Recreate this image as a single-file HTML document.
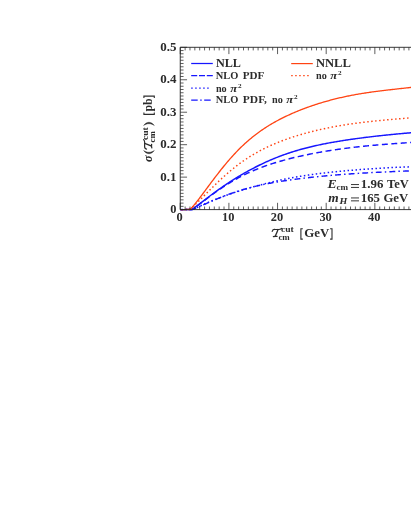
<!DOCTYPE html>
<html><head><meta charset="utf-8"><title>plot</title>
<style>
html,body{margin:0;padding:0;background:#fff;}
body{width:411px;height:532px;overflow:hidden;font-family:"Liberation Serif",serif;}
svg{display:block;}
text{font-family:"Liberation Serif",serif;fill:#2c2c2c;font-weight:bold;}
.i{font-style:italic;}
</style></head><body>
<svg width="411" height="532" viewBox="0 0 411 532">
<rect width="411" height="532" fill="#fff"/>

<path d="M180.2 209.60 L181.2 209.60 L182.2 209.60 L183.2 209.60 L184.2 209.60 L185.2 209.60 L186.2 209.53 L187.2 209.53 L188.2 209.52 L189.2 209.52 L190.2 209.52 L191.2 209.52 L192.2 209.52 L193.2 209.21 L194.2 208.82 L195.2 208.41 L196.2 207.98 L197.2 207.55 L198.2 207.11 L199.2 206.67 L200.2 206.23 L201.2 205.78 L202.2 205.34 L203.2 204.89 L204.2 204.45 L205.2 204.01 L206.2 203.57 L207.2 203.13 L208.2 202.69 L209.2 202.25 L210.2 201.82 L211.2 201.38 L212.2 200.95 L213.2 200.53 L214.2 200.10 L215.2 199.68 L216.2 199.26 L217.2 198.84 L218.2 198.43 L219.2 198.02 L220.2 197.62 L221.2 197.22 L222.2 196.82 L223.2 196.43 L224.2 196.04 L225.2 195.66 L226.2 195.28 L227.2 194.90 L228.2 194.53 L229.2 194.16 L230.2 193.80 L231.2 193.45 L232.2 193.09 L233.2 192.75 L234.2 192.40 L235.2 192.07 L236.2 191.74 L237.2 191.41 L238.2 191.09 L239.2 190.77 L240.2 190.46 L241.2 190.15 L242.2 189.85 L243.2 189.55 L244.2 189.26 L245.2 188.98 L246.2 188.70 L247.2 188.42 L248.2 188.15 L249.2 187.88 L250.2 187.61 L251.2 187.36 L252.2 187.10 L253.2 186.85 L254.2 186.60 L255.2 186.36 L256.2 186.12 L257.2 185.89 L258.2 185.66 L259.2 185.43 L260.2 185.21 L261.2 184.99 L262.2 184.78 L263.2 184.57 L264.2 184.36 L265.2 184.15 L266.2 183.95 L267.2 183.76 L268.2 183.56 L269.2 183.37 L270.2 183.18 L271.2 182.99 L272.2 182.81 L273.2 182.63 L274.2 182.45 L275.2 182.28 L276.2 182.11 L277.2 181.94 L278.2 181.77 L279.2 181.61 L280.2 181.45 L281.2 181.29 L282.2 181.13 L283.2 180.97 L284.2 180.82 L285.2 180.67 L286.2 180.52 L287.2 180.37 L288.2 180.23 L289.2 180.08 L290.2 179.94 L291.2 179.80 L292.2 179.66 L293.2 179.53 L294.2 179.39 L295.2 179.26 L296.2 179.13 L297.2 179.00 L298.2 178.87 L299.2 178.74 L300.2 178.62 L301.2 178.49 L302.2 178.37 L303.2 178.25 L304.2 178.13 L305.2 178.01 L306.2 177.90 L307.2 177.78 L308.2 177.67 L309.2 177.55 L310.2 177.44 L311.2 177.33 L312.2 177.22 L313.2 177.12 L314.2 177.01 L315.2 176.91 L316.2 176.80 L317.2 176.70 L318.2 176.60 L319.2 176.50 L320.2 176.40 L321.2 176.30 L322.2 176.21 L323.2 176.11 L324.2 176.02 L325.2 175.92 L326.2 175.83 L327.2 175.74 L328.2 175.65 L329.2 175.56 L330.2 175.47 L331.2 175.38 L332.2 175.30 L333.2 175.21 L334.2 175.13 L335.2 175.05 L336.2 174.96 L337.2 174.88 L338.2 174.80 L339.2 174.72 L340.2 174.64 L341.2 174.57 L342.2 174.49 L343.2 174.42 L344.2 174.34 L345.2 174.27 L346.2 174.19 L347.2 174.12 L348.2 174.05 L349.2 173.98 L350.2 173.91 L351.2 173.84 L352.2 173.78 L353.2 173.71 L354.2 173.65 L355.2 173.58 L356.2 173.52 L357.2 173.45 L358.2 173.39 L359.2 173.33 L360.2 173.27 L361.2 173.21 L362.2 173.15 L363.2 173.09 L364.2 173.03 L365.2 172.97 L366.2 172.92 L367.2 172.86 L368.2 172.80 L369.2 172.75 L370.2 172.69 L371.2 172.64 L372.2 172.59 L373.2 172.53 L374.2 172.48 L375.2 172.43 L376.2 172.38 L377.2 172.33 L378.2 172.28 L379.2 172.23 L380.2 172.18 L381.2 172.13 L382.2 172.08 L383.2 172.03 L384.2 171.98 L385.2 171.94 L386.2 171.89 L387.2 171.84 L388.2 171.80 L389.2 171.75 L390.2 171.71 L391.2 171.66 L392.2 171.62 L393.2 171.57 L394.2 171.53 L395.2 171.48 L396.2 171.44 L397.2 171.40 L398.2 171.35 L399.2 171.31 L400.2 171.27 L401.2 171.22 L402.2 171.18 L403.2 171.14 L404.2 171.10 L405.2 171.06 L406.2 171.02 L407.2 170.97 L408.2 170.93 L409.2 170.89 L410.2 170.85 L411.2 170.81 L412.2 170.77 L413.2 170.73 L414.2 170.69 L415.2 170.65 L416.2 170.61" stroke="#1616ff" stroke-width="1.45" fill="none" stroke-dasharray="5.9 3.1 1.5 3.1" stroke-dashoffset="3.2"/>
<path d="M180.2 209.60 L181.2 209.60 L182.2 209.60 L183.2 209.60 L184.2 209.60 L185.2 209.60 L186.2 209.59 L187.2 209.59 L188.2 209.59 L189.2 209.59 L190.2 209.58 L191.2 209.58 L192.2 209.57 L193.2 209.37 L194.2 208.90 L195.2 208.42 L196.2 207.94 L197.2 207.46 L198.2 206.99 L199.2 206.51 L200.2 206.04 L201.2 205.58 L202.2 205.12 L203.2 204.66 L204.2 204.20 L205.2 203.75 L206.2 203.31 L207.2 202.87 L208.2 202.43 L209.2 202.00 L210.2 201.58 L211.2 201.16 L212.2 200.74 L213.2 200.33 L214.2 199.92 L215.2 199.52 L216.2 199.12 L217.2 198.73 L218.2 198.34 L219.2 197.96 L220.2 197.58 L221.2 197.21 L222.2 196.83 L223.2 196.47 L224.2 196.10 L225.2 195.74 L226.2 195.39 L227.2 195.04 L228.2 194.69 L229.2 194.34 L230.2 194.00 L231.2 193.66 L232.2 193.32 L233.2 192.99 L234.2 192.66 L235.2 192.33 L236.2 192.01 L237.2 191.68 L238.2 191.36 L239.2 191.05 L240.2 190.73 L241.2 190.42 L242.2 190.11 L243.2 189.80 L244.2 189.49 L245.2 189.19 L246.2 188.89 L247.2 188.59 L248.2 188.29 L249.2 188.00 L250.2 187.71 L251.2 187.42 L252.2 187.13 L253.2 186.85 L254.2 186.57 L255.2 186.29 L256.2 186.01 L257.2 185.73 L258.2 185.46 L259.2 185.19 L260.2 184.92 L261.2 184.66 L262.2 184.40 L263.2 184.14 L264.2 183.88 L265.2 183.63 L266.2 183.37 L267.2 183.12 L268.2 182.88 L269.2 182.63 L270.2 182.39 L271.2 182.15 L272.2 181.91 L273.2 181.68 L274.2 181.44 L275.2 181.22 L276.2 180.99 L277.2 180.76 L278.2 180.54 L279.2 180.32 L280.2 180.11 L281.2 179.89 L282.2 179.68 L283.2 179.47 L284.2 179.27 L285.2 179.06 L286.2 178.86 L287.2 178.67 L288.2 178.47 L289.2 178.28 L290.2 178.09 L291.2 177.90 L292.2 177.72 L293.2 177.54 L294.2 177.36 L295.2 177.18 L296.2 177.00 L297.2 176.83 L298.2 176.66 L299.2 176.49 L300.2 176.33 L301.2 176.17 L302.2 176.01 L303.2 175.85 L304.2 175.69 L305.2 175.54 L306.2 175.39 L307.2 175.24 L308.2 175.09 L309.2 174.94 L310.2 174.80 L311.2 174.66 L312.2 174.52 L313.2 174.38 L314.2 174.25 L315.2 174.11 L316.2 173.98 L317.2 173.85 L318.2 173.72 L319.2 173.59 L320.2 173.47 L321.2 173.35 L322.2 173.23 L323.2 173.11 L324.2 172.99 L325.2 172.87 L326.2 172.76 L327.2 172.64 L328.2 172.53 L329.2 172.42 L330.2 172.31 L331.2 172.20 L332.2 172.10 L333.2 171.99 L334.2 171.89 L335.2 171.78 L336.2 171.68 L337.2 171.58 L338.2 171.48 L339.2 171.39 L340.2 171.29 L341.2 171.19 L342.2 171.10 L343.2 171.01 L344.2 170.92 L345.2 170.83 L346.2 170.74 L347.2 170.65 L348.2 170.56 L349.2 170.47 L350.2 170.39 L351.2 170.30 L352.2 170.22 L353.2 170.13 L354.2 170.05 L355.2 169.97 L356.2 169.89 L357.2 169.81 L358.2 169.73 L359.2 169.65 L360.2 169.57 L361.2 169.50 L362.2 169.42 L363.2 169.35 L364.2 169.27 L365.2 169.20 L366.2 169.13 L367.2 169.06 L368.2 168.99 L369.2 168.92 L370.2 168.85 L371.2 168.78 L372.2 168.71 L373.2 168.65 L374.2 168.58 L375.2 168.52 L376.2 168.45 L377.2 168.39 L378.2 168.33 L379.2 168.27 L380.2 168.21 L381.2 168.15 L382.2 168.09 L383.2 168.03 L384.2 167.98 L385.2 167.92 L386.2 167.87 L387.2 167.81 L388.2 167.76 L389.2 167.71 L390.2 167.66 L391.2 167.61 L392.2 167.56 L393.2 167.51 L394.2 167.46 L395.2 167.41 L396.2 167.37 L397.2 167.32 L398.2 167.28 L399.2 167.24 L400.2 167.19 L401.2 167.15 L402.2 167.11 L403.2 167.07 L404.2 167.03 L405.2 167.00 L406.2 166.96 L407.2 166.92 L408.2 166.89 L409.2 166.85 L410.2 166.82 L411.2 166.79 L412.2 166.76 L413.2 166.73 L414.2 166.70 L415.2 166.67 L416.2 166.64" stroke="#1616ff" stroke-width="1.5" fill="none" stroke-dasharray="1.5 2.5" stroke-dashoffset="-1.1"/>
<path d="M180.2 209.60 L181.2 209.60 L182.2 209.60 L183.2 209.60 L184.2 209.60 L185.2 209.60 L186.2 209.56 L187.2 209.55 L188.2 209.55 L189.2 209.55 L190.2 209.55 L191.2 209.56 L192.2 209.56 L193.2 208.95 L194.2 208.25 L195.2 207.51 L196.2 206.76 L197.2 206.00 L198.2 205.23 L199.2 204.46 L200.2 203.69 L201.2 202.91 L202.2 202.14 L203.2 201.37 L204.2 200.60 L205.2 199.84 L206.2 199.08 L207.2 198.32 L208.2 197.57 L209.2 196.82 L210.2 196.08 L211.2 195.34 L212.2 194.61 L213.2 193.88 L214.2 193.16 L215.2 192.44 L216.2 191.73 L217.2 191.03 L218.2 190.33 L219.2 189.64 L220.2 188.96 L221.2 188.28 L222.2 187.61 L223.2 186.95 L224.2 186.30 L225.2 185.65 L226.2 185.01 L227.2 184.38 L228.2 183.75 L229.2 183.14 L230.2 182.53 L231.2 181.93 L232.2 181.34 L233.2 180.75 L234.2 180.17 L235.2 179.60 L236.2 179.04 L237.2 178.49 L238.2 177.95 L239.2 177.41 L240.2 176.88 L241.2 176.36 L242.2 175.85 L243.2 175.34 L244.2 174.85 L245.2 174.36 L246.2 173.88 L247.2 173.40 L248.2 172.94 L249.2 172.48 L250.2 172.03 L251.2 171.58 L252.2 171.14 L253.2 170.71 L254.2 170.29 L255.2 169.87 L256.2 169.46 L257.2 169.05 L258.2 168.65 L259.2 168.26 L260.2 167.87 L261.2 167.49 L262.2 167.12 L263.2 166.75 L264.2 166.39 L265.2 166.03 L266.2 165.67 L267.2 165.33 L268.2 164.98 L269.2 164.65 L270.2 164.31 L271.2 163.99 L272.2 163.66 L273.2 163.35 L274.2 163.03 L275.2 162.72 L276.2 162.42 L277.2 162.12 L278.2 161.82 L279.2 161.53 L280.2 161.24 L281.2 160.96 L282.2 160.68 L283.2 160.40 L284.2 160.13 L285.2 159.86 L286.2 159.59 L287.2 159.33 L288.2 159.06 L289.2 158.81 L290.2 158.55 L291.2 158.30 L292.2 158.05 L293.2 157.81 L294.2 157.57 L295.2 157.33 L296.2 157.09 L297.2 156.86 L298.2 156.63 L299.2 156.40 L300.2 156.17 L301.2 155.95 L302.2 155.73 L303.2 155.51 L304.2 155.30 L305.2 155.08 L306.2 154.87 L307.2 154.67 L308.2 154.46 L309.2 154.26 L310.2 154.06 L311.2 153.86 L312.2 153.66 L313.2 153.47 L314.2 153.28 L315.2 153.09 L316.2 152.90 L317.2 152.72 L318.2 152.54 L319.2 152.35 L320.2 152.18 L321.2 152.00 L322.2 151.83 L323.2 151.65 L324.2 151.48 L325.2 151.32 L326.2 151.15 L327.2 150.99 L328.2 150.83 L329.2 150.67 L330.2 150.51 L331.2 150.35 L332.2 150.20 L333.2 150.05 L334.2 149.89 L335.2 149.75 L336.2 149.60 L337.2 149.45 L338.2 149.31 L339.2 149.17 L340.2 149.03 L341.2 148.89 L342.2 148.76 L343.2 148.62 L344.2 148.49 L345.2 148.36 L346.2 148.23 L347.2 148.10 L348.2 147.98 L349.2 147.85 L350.2 147.73 L351.2 147.61 L352.2 147.49 L353.2 147.38 L354.2 147.26 L355.2 147.15 L356.2 147.03 L357.2 146.92 L358.2 146.81 L359.2 146.71 L360.2 146.60 L361.2 146.49 L362.2 146.39 L363.2 146.29 L364.2 146.19 L365.2 146.09 L366.2 145.99 L367.2 145.89 L368.2 145.80 L369.2 145.70 L370.2 145.61 L371.2 145.52 L372.2 145.42 L373.2 145.33 L374.2 145.24 L375.2 145.16 L376.2 145.07 L377.2 144.98 L378.2 144.90 L379.2 144.81 L380.2 144.73 L381.2 144.65 L382.2 144.57 L383.2 144.49 L384.2 144.41 L385.2 144.33 L386.2 144.25 L387.2 144.17 L388.2 144.09 L389.2 144.02 L390.2 143.94 L391.2 143.87 L392.2 143.79 L393.2 143.72 L394.2 143.65 L395.2 143.58 L396.2 143.51 L397.2 143.43 L398.2 143.36 L399.2 143.30 L400.2 143.23 L401.2 143.16 L402.2 143.09 L403.2 143.02 L404.2 142.95 L405.2 142.89 L406.2 142.82 L407.2 142.76 L408.2 142.69 L409.2 142.63 L410.2 142.56 L411.2 142.50 L412.2 142.43 L413.2 142.37 L414.2 142.31 L415.2 142.24 L416.2 142.18" stroke="#1616ff" stroke-width="1.45" fill="none" stroke-dasharray="6 3.45" stroke-dashoffset="1.0"/>
<path d="M180.2 209.60 L181.2 209.60 L182.2 209.60 L183.2 209.60 L184.2 209.60 L185.2 209.60 L186.2 209.57 L187.2 209.56 L188.2 209.56 L189.2 209.55 L190.2 209.55 L191.2 209.53 L192.2 209.03 L193.2 208.42 L194.2 207.76 L195.2 207.08 L196.2 206.37 L197.2 205.64 L198.2 204.90 L199.2 204.16 L200.2 203.40 L201.2 202.64 L202.2 201.88 L203.2 201.11 L204.2 200.35 L205.2 199.58 L206.2 198.82 L207.2 198.05 L208.2 197.29 L209.2 196.53 L210.2 195.78 L211.2 195.02 L212.2 194.28 L213.2 193.53 L214.2 192.80 L215.2 192.06 L216.2 191.34 L217.2 190.61 L218.2 189.90 L219.2 189.18 L220.2 188.48 L221.2 187.78 L222.2 187.08 L223.2 186.39 L224.2 185.71 L225.2 185.03 L226.2 184.36 L227.2 183.69 L228.2 183.03 L229.2 182.38 L230.2 181.73 L231.2 181.09 L232.2 180.45 L233.2 179.82 L234.2 179.19 L235.2 178.57 L236.2 177.96 L237.2 177.34 L238.2 176.74 L239.2 176.14 L240.2 175.55 L241.2 174.96 L242.2 174.37 L243.2 173.79 L244.2 173.22 L245.2 172.65 L246.2 172.09 L247.2 171.53 L248.2 170.98 L249.2 170.43 L250.2 169.89 L251.2 169.35 L252.2 168.82 L253.2 168.30 L254.2 167.77 L255.2 167.26 L256.2 166.75 L257.2 166.25 L258.2 165.75 L259.2 165.26 L260.2 164.77 L261.2 164.29 L262.2 163.81 L263.2 163.34 L264.2 162.87 L265.2 162.41 L266.2 161.96 L267.2 161.51 L268.2 161.06 L269.2 160.62 L270.2 160.19 L271.2 159.76 L272.2 159.34 L273.2 158.92 L274.2 158.51 L275.2 158.10 L276.2 157.70 L277.2 157.30 L278.2 156.91 L279.2 156.52 L280.2 156.14 L281.2 155.77 L282.2 155.39 L283.2 155.03 L284.2 154.67 L285.2 154.31 L286.2 153.96 L287.2 153.62 L288.2 153.28 L289.2 152.94 L290.2 152.61 L291.2 152.29 L292.2 151.97 L293.2 151.65 L294.2 151.34 L295.2 151.03 L296.2 150.73 L297.2 150.44 L298.2 150.14 L299.2 149.85 L300.2 149.57 L301.2 149.29 L302.2 149.01 L303.2 148.74 L304.2 148.48 L305.2 148.21 L306.2 147.95 L307.2 147.70 L308.2 147.44 L309.2 147.20 L310.2 146.95 L311.2 146.71 L312.2 146.47 L313.2 146.24 L314.2 146.01 L315.2 145.78 L316.2 145.56 L317.2 145.34 L318.2 145.12 L319.2 144.90 L320.2 144.69 L321.2 144.48 L322.2 144.28 L323.2 144.07 L324.2 143.87 L325.2 143.68 L326.2 143.48 L327.2 143.29 L328.2 143.10 L329.2 142.91 L330.2 142.73 L331.2 142.55 L332.2 142.37 L333.2 142.19 L334.2 142.02 L335.2 141.84 L336.2 141.67 L337.2 141.51 L338.2 141.34 L339.2 141.18 L340.2 141.01 L341.2 140.85 L342.2 140.69 L343.2 140.54 L344.2 140.38 L345.2 140.23 L346.2 140.08 L347.2 139.93 L348.2 139.78 L349.2 139.63 L350.2 139.49 L351.2 139.34 L352.2 139.20 L353.2 139.06 L354.2 138.92 L355.2 138.78 L356.2 138.64 L357.2 138.51 L358.2 138.37 L359.2 138.24 L360.2 138.11 L361.2 137.98 L362.2 137.85 L363.2 137.72 L364.2 137.59 L365.2 137.47 L366.2 137.34 L367.2 137.22 L368.2 137.10 L369.2 136.97 L370.2 136.85 L371.2 136.73 L372.2 136.62 L373.2 136.50 L374.2 136.38 L375.2 136.27 L376.2 136.15 L377.2 136.04 L378.2 135.93 L379.2 135.82 L380.2 135.71 L381.2 135.60 L382.2 135.49 L383.2 135.38 L384.2 135.28 L385.2 135.17 L386.2 135.07 L387.2 134.97 L388.2 134.86 L389.2 134.76 L390.2 134.66 L391.2 134.56 L392.2 134.46 L393.2 134.37 L394.2 134.27 L395.2 134.17 L396.2 134.08 L397.2 133.98 L398.2 133.89 L399.2 133.80 L400.2 133.70 L401.2 133.61 L402.2 133.52 L403.2 133.43 L404.2 133.34 L405.2 133.26 L406.2 133.17 L407.2 133.08 L408.2 133.00 L409.2 132.91 L410.2 132.83 L411.2 132.75 L412.2 132.66 L413.2 132.58 L414.2 132.50 L415.2 132.42 L416.2 132.34" stroke="#1616ff" stroke-width="1.45" fill="none"/>
<path d="M180.2 209.60 L181.2 209.60 L182.2 209.60 L183.2 209.60 L184.2 209.60 L185.2 209.60 L186.2 209.54 L187.2 209.54 L188.2 209.54 L189.2 209.44 L190.2 208.80 L191.2 208.04 L192.2 207.21 L193.2 206.33 L194.2 205.43 L195.2 204.50 L196.2 203.55 L197.2 202.59 L198.2 201.61 L199.2 200.63 L200.2 199.64 L201.2 198.64 L202.2 197.64 L203.2 196.64 L204.2 195.63 L205.2 194.63 L206.2 193.62 L207.2 192.62 L208.2 191.62 L209.2 190.62 L210.2 189.62 L211.2 188.63 L212.2 187.64 L213.2 186.66 L214.2 185.68 L215.2 184.70 L216.2 183.74 L217.2 182.78 L218.2 181.82 L219.2 180.88 L220.2 179.94 L221.2 179.01 L222.2 178.09 L223.2 177.17 L224.2 176.27 L225.2 175.37 L226.2 174.49 L227.2 173.61 L228.2 172.75 L229.2 171.89 L230.2 171.05 L231.2 170.21 L232.2 169.39 L233.2 168.57 L234.2 167.77 L235.2 166.98 L236.2 166.19 L237.2 165.42 L238.2 164.66 L239.2 163.92 L240.2 163.18 L241.2 162.45 L242.2 161.74 L243.2 161.03 L244.2 160.34 L245.2 159.66 L246.2 158.99 L247.2 158.33 L248.2 157.67 L249.2 157.03 L250.2 156.40 L251.2 155.78 L252.2 155.17 L253.2 154.57 L254.2 153.98 L255.2 153.40 L256.2 152.83 L257.2 152.27 L258.2 151.71 L259.2 151.17 L260.2 150.63 L261.2 150.10 L262.2 149.59 L263.2 149.08 L264.2 148.57 L265.2 148.08 L266.2 147.59 L267.2 147.11 L268.2 146.64 L269.2 146.18 L270.2 145.73 L271.2 145.28 L272.2 144.83 L273.2 144.40 L274.2 143.97 L275.2 143.55 L276.2 143.14 L277.2 142.73 L278.2 142.32 L279.2 141.93 L280.2 141.54 L281.2 141.15 L282.2 140.77 L283.2 140.40 L284.2 140.03 L285.2 139.67 L286.2 139.31 L287.2 138.95 L288.2 138.61 L289.2 138.26 L290.2 137.92 L291.2 137.59 L292.2 137.26 L293.2 136.93 L294.2 136.61 L295.2 136.29 L296.2 135.98 L297.2 135.67 L298.2 135.36 L299.2 135.06 L300.2 134.76 L301.2 134.47 L302.2 134.18 L303.2 133.89 L304.2 133.61 L305.2 133.33 L306.2 133.06 L307.2 132.79 L308.2 132.52 L309.2 132.26 L310.2 132.00 L311.2 131.74 L312.2 131.49 L313.2 131.24 L314.2 130.99 L315.2 130.75 L316.2 130.51 L317.2 130.27 L318.2 130.04 L319.2 129.80 L320.2 129.58 L321.2 129.35 L322.2 129.13 L323.2 128.91 L324.2 128.70 L325.2 128.48 L326.2 128.27 L327.2 128.07 L328.2 127.86 L329.2 127.66 L330.2 127.46 L331.2 127.27 L332.2 127.07 L333.2 126.88 L334.2 126.69 L335.2 126.51 L336.2 126.33 L337.2 126.15 L338.2 125.97 L339.2 125.79 L340.2 125.62 L341.2 125.45 L342.2 125.28 L343.2 125.12 L344.2 124.96 L345.2 124.80 L346.2 124.64 L347.2 124.49 L348.2 124.33 L349.2 124.18 L350.2 124.04 L351.2 123.89 L352.2 123.75 L353.2 123.61 L354.2 123.47 L355.2 123.33 L356.2 123.20 L357.2 123.07 L358.2 122.94 L359.2 122.81 L360.2 122.69 L361.2 122.56 L362.2 122.44 L363.2 122.32 L364.2 122.20 L365.2 122.08 L366.2 121.97 L367.2 121.86 L368.2 121.74 L369.2 121.63 L370.2 121.52 L371.2 121.42 L372.2 121.31 L373.2 121.20 L374.2 121.10 L375.2 121.00 L376.2 120.90 L377.2 120.80 L378.2 120.70 L379.2 120.60 L380.2 120.50 L381.2 120.40 L382.2 120.31 L383.2 120.21 L384.2 120.12 L385.2 120.03 L386.2 119.93 L387.2 119.84 L388.2 119.75 L389.2 119.66 L390.2 119.57 L391.2 119.48 L392.2 119.40 L393.2 119.31 L394.2 119.22 L395.2 119.13 L396.2 119.05 L397.2 118.96 L398.2 118.87 L399.2 118.79 L400.2 118.70 L401.2 118.62 L402.2 118.53 L403.2 118.45 L404.2 118.36 L405.2 118.27 L406.2 118.19 L407.2 118.10 L408.2 118.02 L409.2 117.93 L410.2 117.85 L411.2 117.76 L412.2 117.68 L413.2 117.59 L414.2 117.51 L415.2 117.42 L416.2 117.33" stroke="#ff4312" stroke-width="1.45" fill="none" stroke-dasharray="1.5 2.5" stroke-dashoffset="-1.0"/>
<path d="M180.2 209.60 L181.2 209.60 L182.2 209.60 L183.2 209.60 L184.2 209.60 L185.2 209.60 L186.2 209.46 L187.2 209.47 L188.2 209.48 L189.2 209.49 L190.2 209.17 L191.2 208.26 L192.2 207.22 L193.2 206.10 L194.2 204.92 L195.2 203.70 L196.2 202.45 L197.2 201.18 L198.2 199.88 L199.2 198.57 L200.2 197.25 L201.2 195.92 L202.2 194.58 L203.2 193.24 L204.2 191.89 L205.2 190.54 L206.2 189.19 L207.2 187.85 L208.2 186.50 L209.2 185.15 L210.2 183.81 L211.2 182.47 L212.2 181.14 L213.2 179.81 L214.2 178.49 L215.2 177.17 L216.2 175.87 L217.2 174.57 L218.2 173.28 L219.2 172.00 L220.2 170.73 L221.2 169.47 L222.2 168.22 L223.2 166.99 L224.2 165.76 L225.2 164.55 L226.2 163.35 L227.2 162.17 L228.2 161.00 L229.2 159.84 L230.2 158.69 L231.2 157.56 L232.2 156.45 L233.2 155.35 L234.2 154.26 L235.2 153.19 L236.2 152.13 L237.2 151.09 L238.2 150.07 L239.2 149.06 L240.2 148.06 L241.2 147.09 L242.2 146.12 L243.2 145.18 L244.2 144.24 L245.2 143.33 L246.2 142.42 L247.2 141.54 L248.2 140.66 L249.2 139.81 L250.2 138.96 L251.2 138.13 L252.2 137.31 L253.2 136.51 L254.2 135.72 L255.2 134.94 L256.2 134.18 L257.2 133.43 L258.2 132.69 L259.2 131.96 L260.2 131.25 L261.2 130.54 L262.2 129.85 L263.2 129.17 L264.2 128.51 L265.2 127.85 L266.2 127.20 L267.2 126.57 L268.2 125.94 L269.2 125.32 L270.2 124.72 L271.2 124.12 L272.2 123.54 L273.2 122.96 L274.2 122.39 L275.2 121.83 L276.2 121.28 L277.2 120.74 L278.2 120.20 L279.2 119.68 L280.2 119.16 L281.2 118.64 L282.2 118.14 L283.2 117.64 L284.2 117.15 L285.2 116.67 L286.2 116.19 L287.2 115.72 L288.2 115.26 L289.2 114.80 L290.2 114.34 L291.2 113.90 L292.2 113.45 L293.2 113.02 L294.2 112.59 L295.2 112.16 L296.2 111.74 L297.2 111.33 L298.2 110.92 L299.2 110.51 L300.2 110.11 L301.2 109.72 L302.2 109.33 L303.2 108.95 L304.2 108.57 L305.2 108.19 L306.2 107.82 L307.2 107.46 L308.2 107.09 L309.2 106.74 L310.2 106.39 L311.2 106.04 L312.2 105.70 L313.2 105.36 L314.2 105.03 L315.2 104.70 L316.2 104.37 L317.2 104.05 L318.2 103.73 L319.2 103.42 L320.2 103.11 L321.2 102.80 L322.2 102.50 L323.2 102.21 L324.2 101.91 L325.2 101.62 L326.2 101.34 L327.2 101.06 L328.2 100.78 L329.2 100.51 L330.2 100.24 L331.2 99.97 L332.2 99.71 L333.2 99.45 L334.2 99.19 L335.2 98.94 L336.2 98.69 L337.2 98.45 L338.2 98.21 L339.2 97.97 L340.2 97.74 L341.2 97.51 L342.2 97.28 L343.2 97.06 L344.2 96.84 L345.2 96.62 L346.2 96.41 L347.2 96.20 L348.2 96.00 L349.2 95.79 L350.2 95.59 L351.2 95.40 L352.2 95.21 L353.2 95.02 L354.2 94.83 L355.2 94.65 L356.2 94.47 L357.2 94.30 L358.2 94.13 L359.2 93.96 L360.2 93.79 L361.2 93.62 L362.2 93.46 L363.2 93.30 L364.2 93.15 L365.2 92.99 L366.2 92.84 L367.2 92.69 L368.2 92.54 L369.2 92.40 L370.2 92.25 L371.2 92.11 L372.2 91.97 L373.2 91.84 L374.2 91.70 L375.2 91.57 L376.2 91.44 L377.2 91.30 L378.2 91.18 L379.2 91.05 L380.2 90.92 L381.2 90.80 L382.2 90.67 L383.2 90.55 L384.2 90.43 L385.2 90.31 L386.2 90.19 L387.2 90.08 L388.2 89.96 L389.2 89.84 L390.2 89.73 L391.2 89.61 L392.2 89.50 L393.2 89.39 L394.2 89.28 L395.2 89.16 L396.2 89.05 L397.2 88.94 L398.2 88.83 L399.2 88.72 L400.2 88.61 L401.2 88.50 L402.2 88.39 L403.2 88.29 L404.2 88.18 L405.2 88.07 L406.2 87.96 L407.2 87.85 L408.2 87.74 L409.2 87.63 L410.2 87.52 L411.2 87.42 L412.2 87.31 L413.2 87.20 L414.2 87.09 L415.2 86.97 L416.2 86.86" stroke="#ff4312" stroke-width="1.3" fill="none"/>
<path d="M180.25 209.6 v-6.8 M180.25 47.30 v6.8 M185.12 209.6 v-3.1 M185.12 47.30 v3.1 M189.98 209.6 v-3.1 M189.98 47.30 v3.1 M194.84 209.6 v-3.1 M194.84 47.30 v3.1 M199.71 209.6 v-3.1 M199.71 47.30 v3.1 M204.57 209.6 v-3.1 M204.57 47.30 v3.1 M209.44 209.6 v-3.1 M209.44 47.30 v3.1 M214.31 209.6 v-3.1 M214.31 47.30 v3.1 M219.17 209.6 v-3.1 M219.17 47.30 v3.1 M224.03 209.6 v-3.1 M224.03 47.30 v3.1 M228.90 209.6 v-6.8 M228.90 47.30 v6.8 M233.76 209.6 v-3.1 M233.76 47.30 v3.1 M238.63 209.6 v-3.1 M238.63 47.30 v3.1 M243.50 209.6 v-3.1 M243.50 47.30 v3.1 M248.36 209.6 v-3.1 M248.36 47.30 v3.1 M253.23 209.6 v-3.1 M253.23 47.30 v3.1 M258.09 209.6 v-3.1 M258.09 47.30 v3.1 M262.95 209.6 v-3.1 M262.95 47.30 v3.1 M267.82 209.6 v-3.1 M267.82 47.30 v3.1 M272.69 209.6 v-3.1 M272.69 47.30 v3.1 M277.55 209.6 v-6.8 M277.55 47.30 v6.8 M282.42 209.6 v-3.1 M282.42 47.30 v3.1 M287.28 209.6 v-3.1 M287.28 47.30 v3.1 M292.14 209.6 v-3.1 M292.14 47.30 v3.1 M297.01 209.6 v-3.1 M297.01 47.30 v3.1 M301.88 209.6 v-3.1 M301.88 47.30 v3.1 M306.74 209.6 v-3.1 M306.74 47.30 v3.1 M311.61 209.6 v-3.1 M311.61 47.30 v3.1 M316.47 209.6 v-3.1 M316.47 47.30 v3.1 M321.34 209.6 v-3.1 M321.34 47.30 v3.1 M326.20 209.6 v-6.8 M326.20 47.30 v6.8 M331.06 209.6 v-3.1 M331.06 47.30 v3.1 M335.93 209.6 v-3.1 M335.93 47.30 v3.1 M340.80 209.6 v-3.1 M340.80 47.30 v3.1 M345.66 209.6 v-3.1 M345.66 47.30 v3.1 M350.52 209.6 v-3.1 M350.52 47.30 v3.1 M355.39 209.6 v-3.1 M355.39 47.30 v3.1 M360.25 209.6 v-3.1 M360.25 47.30 v3.1 M365.12 209.6 v-3.1 M365.12 47.30 v3.1 M369.99 209.6 v-3.1 M369.99 47.30 v3.1 M374.85 209.6 v-6.8 M374.85 47.30 v6.8 M379.72 209.6 v-3.1 M379.72 47.30 v3.1 M384.58 209.6 v-3.1 M384.58 47.30 v3.1 M389.45 209.6 v-3.1 M389.45 47.30 v3.1 M394.31 209.6 v-3.1 M394.31 47.30 v3.1 M399.18 209.6 v-3.1 M399.18 47.30 v3.1 M404.04 209.6 v-3.1 M404.04 47.30 v3.1 M408.90 209.6 v-3.1 M408.90 47.30 v3.1 M413.77 209.6 v-3.1 M413.77 47.30 v3.1 M180.25 209.60 h6.8 M180.25 206.35 h3.3 M180.25 203.11 h3.3 M180.25 199.86 h3.3 M180.25 196.62 h3.3 M180.25 193.37 h3.3 M180.25 190.12 h3.3 M180.25 186.88 h3.3 M180.25 183.63 h3.3 M180.25 180.39 h3.3 M180.25 177.14 h6.8 M180.25 173.89 h3.3 M180.25 170.65 h3.3 M180.25 167.40 h3.3 M180.25 164.16 h3.3 M180.25 160.91 h3.3 M180.25 157.66 h3.3 M180.25 154.42 h3.3 M180.25 151.17 h3.3 M180.25 147.93 h3.3 M180.25 144.68 h6.8 M180.25 141.43 h3.3 M180.25 138.19 h3.3 M180.25 134.94 h3.3 M180.25 131.70 h3.3 M180.25 128.45 h3.3 M180.25 125.20 h3.3 M180.25 121.96 h3.3 M180.25 118.71 h3.3 M180.25 115.47 h3.3 M180.25 112.22 h6.8 M180.25 108.97 h3.3 M180.25 105.73 h3.3 M180.25 102.48 h3.3 M180.25 99.24 h3.3 M180.25 95.99 h3.3 M180.25 92.74 h3.3 M180.25 89.50 h3.3 M180.25 86.25 h3.3 M180.25 83.01 h3.3 M180.25 79.76 h6.8 M180.25 76.51 h3.3 M180.25 73.27 h3.3 M180.25 70.02 h3.3 M180.25 66.78 h3.3 M180.25 63.53 h3.3 M180.25 60.28 h3.3 M180.25 57.04 h3.3 M180.25 53.79 h3.3 M180.25 50.55 h3.3 M180.25 47.30 h6.8" stroke="#2a2a2a" stroke-width="0.75" fill="none"/>
<path d="M416 47.30 H180.25 V209.6 H416" stroke="#222" stroke-width="0.9" fill="none"/>
<path d="M191.2 63.5 H212.8" stroke="#1616ff" stroke-width="1.25"/>
<path d="M191.2 75.6 H212.8" stroke="#1616ff" stroke-width="1.25" stroke-dasharray="6 1.8"/>
<path d="M191.2 88.1 H210" stroke="#1616ff" stroke-width="1.4" stroke-dasharray="1.5 2.5"/>
<path d="M191.2 100.2 H212" stroke="#1616ff" stroke-width="1.3" stroke-dasharray="6.5 2.5 1.5 2.5"/>
<path d="M291.2 63.6 H312.8" stroke="#ff4312" stroke-width="1.2"/>
<path d="M291.2 75.6 H310" stroke="#ff4312" stroke-width="1.3" stroke-dasharray="1.5 2.5"/>
<defs><filter id="gs" x="0" y="0" width="100%" height="100%" filterUnits="userSpaceOnUse" color-interpolation-filters="sRGB"><feColorMatrix type="saturate" values="0"/></filter></defs><g filter="url(#gs)">
<text x="170.2" y="213.2" font-size="12" textLength="6.2" lengthAdjust="spacingAndGlyphs">0</text>
<text x="160.2" y="180.7" font-size="12" textLength="16.2" lengthAdjust="spacingAndGlyphs">0.1</text>
<text x="160.2" y="148.3" font-size="12" textLength="16.2" lengthAdjust="spacingAndGlyphs">0.2</text>
<text x="160.2" y="115.8" font-size="12" textLength="16.2" lengthAdjust="spacingAndGlyphs">0.3</text>
<text x="160.2" y="83.4" font-size="12" textLength="16.2" lengthAdjust="spacingAndGlyphs">0.4</text>
<text x="160.2" y="50.9" font-size="12" textLength="16.2" lengthAdjust="spacingAndGlyphs">0.5</text>
<text x="176.6" y="220.6" font-size="12" textLength="6.2" lengthAdjust="spacingAndGlyphs">0</text>
<text x="222.1" y="220.6" font-size="12" textLength="12.4" lengthAdjust="spacingAndGlyphs">10</text>
<text x="270.8" y="220.6" font-size="12" textLength="12.4" lengthAdjust="spacingAndGlyphs">20</text>
<text x="319.4" y="220.6" font-size="12" textLength="12.4" lengthAdjust="spacingAndGlyphs">30</text>
<text x="368.1" y="220.6" font-size="12" textLength="12.4" lengthAdjust="spacingAndGlyphs">40</text>
<text x="215.9" y="66.7" font-size="12" textLength="25" lengthAdjust="spacingAndGlyphs">NLL</text>
<text x="215.8" y="78.7" font-size="9.7" textLength="22.6" lengthAdjust="spacingAndGlyphs">NLO</text><text x="242.8" y="78.7" font-size="9.7" textLength="21.6" lengthAdjust="spacingAndGlyphs">PDF</text>
<text x="215.9" y="92.2" font-size="9.7" textLength="10.8" lengthAdjust="spacingAndGlyphs">no</text><text x="230.20000000000002" y="92.2" font-size="9.7" textLength="7.0" lengthAdjust="spacingAndGlyphs" class="i">π</text><text x="237.9" y="88.2" font-size="7" textLength="3.6" lengthAdjust="spacingAndGlyphs">2</text>
<text x="215.8" y="103.3" font-size="9.7" textLength="22.6" lengthAdjust="spacingAndGlyphs">NLO</text><text x="242.8" y="103.3" font-size="9.7" textLength="24.2" lengthAdjust="spacingAndGlyphs">PDF,</text><text x="272" y="103.3" font-size="9.7" textLength="10.8" lengthAdjust="spacingAndGlyphs">no</text><text x="286.3" y="103.3" font-size="9.7" textLength="7.0" lengthAdjust="spacingAndGlyphs" class="i">π</text><text x="294.0" y="99.3" font-size="7" textLength="3.6" lengthAdjust="spacingAndGlyphs">2</text>
<text x="315.9" y="66.7" font-size="12" textLength="35" lengthAdjust="spacingAndGlyphs">NNLL</text>
<text x="316.0" y="79.3" font-size="9.7" textLength="10.8" lengthAdjust="spacingAndGlyphs">no</text><text x="330.3" y="79.3" font-size="9.7" textLength="7.0" lengthAdjust="spacingAndGlyphs" class="i">π</text><text x="338.0" y="75.3" font-size="7" textLength="3.6" lengthAdjust="spacingAndGlyphs">2</text>
<text x="327.5" y="187.8" font-size="12" textLength="9.2" lengthAdjust="spacingAndGlyphs" class="i">E</text><text x="336.5" y="189.5" font-size="7.8" textLength="11.6" lengthAdjust="spacingAndGlyphs">cm</text><path d="M351.0 184.55 h8 M351.0 187.45 h8" stroke="#2c2c2c" stroke-width="0.95" fill="none"/><text x="360.8" y="187.8" font-size="12" textLength="22.6" lengthAdjust="spacingAndGlyphs">1.96</text><text x="387" y="187.8" font-size="12" textLength="21.8" lengthAdjust="spacingAndGlyphs">TeV</text>
<text x="328.3" y="201.6" font-size="12" textLength="10.4" lengthAdjust="spacingAndGlyphs" class="i">m</text><text x="339.4" y="203.5" font-size="7.8" textLength="7.8" lengthAdjust="spacingAndGlyphs" class="i">H</text><path d="M351.0 197.95000000000002 h8 M351.0 200.85 h8" stroke="#2c2c2c" stroke-width="0.95" fill="none"/><text x="360.8" y="201.6" font-size="12" textLength="19.2" lengthAdjust="spacingAndGlyphs">165</text><text x="383.4" y="201.6" font-size="12" textLength="24.8" lengthAdjust="spacingAndGlyphs">GeV</text>
<g transform="translate(272.0,236.7)"><path d="M0.2 -5.4 C0.6 -6.9 1.6 -7.4 3.0 -7.3 L6.6 -7.2 C8.0 -7.2 8.9 -7.6 9.6 -8.3" fill="none" stroke="#2c2c2c" stroke-width="1.2" stroke-linecap="round"/><path d="M6.0 -7.2 C5.2 -4.8 4.2 -2.5 3.2 -0.4 M1.4 -0.1 C2.6 -0.5 3.8 -0.5 5.0 -0.3" fill="none" stroke="#2c2c2c" stroke-width="1.3" stroke-linecap="round"/></g>
<text x="281.0" y="232.29999999999998" font-size="7.6" textLength="12.8" lengthAdjust="spacingAndGlyphs">cut</text>
<text x="278.4" y="239.5" font-size="7.6" textLength="11.4" lengthAdjust="spacingAndGlyphs">cm</text>
<path d="M302.8 228.7 H300.90000000000003 V239.1 H302.8" stroke="#2c2c2c" stroke-width="1.1" fill="none"/><text x="304.3" y="236.6" font-size="12" textLength="25" lengthAdjust="spacingAndGlyphs">GeV</text><path d="M330.1 228.7 H332.0 V239.1 H330.1" stroke="#2c2c2c" stroke-width="1.1" fill="none"/>
<g transform="translate(151.8,161.9) rotate(-90)">
<text x="0" y="0" font-size="12" textLength="6.5" lengthAdjust="spacingAndGlyphs" class="i">σ</text>
<path d="M11.4 -8.2 C7.1 -5.0 7.1 -0.7 11.4 2.5 C9.0 -0.9 9.0 -4.8 11.4 -8.2 Z" fill="#2c2c2c" stroke="#2c2c2c" stroke-width="0.4" stroke-linejoin="round"/>
<g transform="translate(12.6,0.1)"><path d="M0.2 -5.4 C0.6 -6.9 1.6 -7.4 3.0 -7.3 L6.6 -7.2 C8.0 -7.2 8.9 -7.6 9.6 -8.3" fill="none" stroke="#2c2c2c" stroke-width="1.2" stroke-linecap="round"/><path d="M6.0 -7.2 C5.2 -4.8 4.2 -2.5 3.2 -0.4 M1.4 -0.1 C2.6 -0.5 3.8 -0.5 5.0 -0.3" fill="none" stroke="#2c2c2c" stroke-width="1.3" stroke-linecap="round"/></g>
<text x="21.8" y="-4.3" font-size="7.6" textLength="12.8" lengthAdjust="spacingAndGlyphs">cut</text>
<text x="19.4" y="2.9" font-size="7.6" textLength="11.4" lengthAdjust="spacingAndGlyphs">cm</text>
<path d="M36.4 -8.2 C40.699999999999996 -5.0 40.699999999999996 -0.7 36.4 2.5 C38.8 -0.9 38.8 -4.8 36.4 -8.2 Z" fill="#2c2c2c" stroke="#2c2c2c" stroke-width="0.4" stroke-linejoin="round"/>
<path d="M49.4 -7.9 H47.5 V2.5 H49.4" stroke="#2c2c2c" stroke-width="1.1" fill="none"/><text x="50.3" y="0" font-size="12" textLength="13.2" lengthAdjust="spacingAndGlyphs">pb</text><path d="M63.900000000000006 -7.9 H65.80000000000001 V2.5 H63.900000000000006" stroke="#2c2c2c" stroke-width="1.1" fill="none"/>
</g>
</g>
</svg></body></html>
